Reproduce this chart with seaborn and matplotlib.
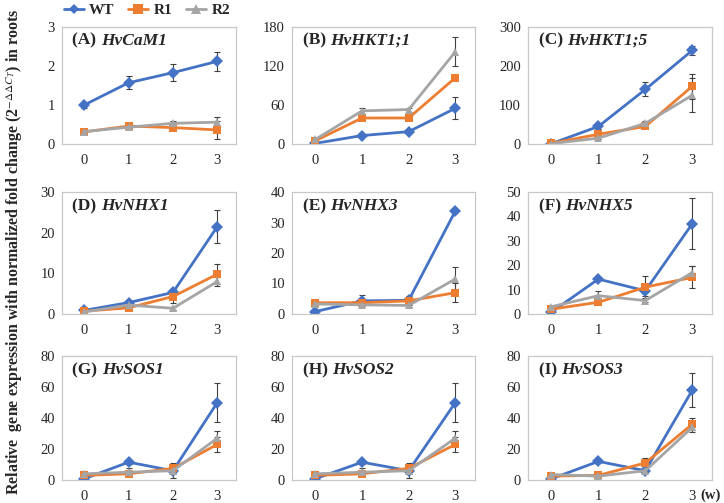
import numpy as np
import pandas as pd
import matplotlib
matplotlib.use("Agg")
import matplotlib.pyplot as plt
import seaborn as sns
from matplotlib.lines import Line2D

#%% Dados (médias e desvios)
weeks = [0, 1, 2, 3]
lines = ["WT", "R1", "R2"]
tags = ["(A)", "(B)", "(C)", "(D)", "(E)", "(F)", "(G)", "(H)", "(I)"]
genes = ["HvCaM1", "HvHKT1;1", "HvHKT1;5", "HvNHX1", "HvNHX3", "HvNHX5",
         "HvSOS1", "HvSOS2", "HvSOS3"]
ymax = [3, 180, 300, 30, 40, 50, 80, 80, 80]
ystep = [1, 60, 100, 10, 10, 10, 20, 20, 20]

cam1_mean = [[1.0, 1.57, 1.83, 2.12], [0.31, 0.46, 0.42, 0.36], [0.32, 0.43, 0.53, 0.56]]
cam1_err = [[0.08, 0.17, 0.22, 0.25], [0.03, 0.05, 0.05, 0.22], [0.03, 0.04, 0.05, 0.14]]
hkt11_mean = [[1, 13, 19, 55], [5, 40, 40, 102], [7, 51, 53, 142]]
hkt11_err = [[0.5, 2, 2, 17], [1, 2, 2, 3], [1, 5, 3, 22]]
hkt15_mean = [[1, 45, 140, 240], [2, 25, 45, 148], [1, 15, 53, 125]]
hkt15_err = [[0.5, 6, 18, 12], [1, 4, 5, 32], [0.5, 3, 5, 43]]
nhx1_mean = [[0.9, 2.8, 5.3, 21.5], [0.7, 1.5, 4.3, 9.8], [0.5, 2.2, 1.4, 8.0]]
nhx1_err = [[0.1, 0.3, 0.8, 4.0], [0.1, 0.2, 1.5, 2.5], [0.1, 0.3, 0.3, 1.2]]
nhx3_mean = [[0.8, 4.3, 4.5, 33.8], [3.7, 3.7, 4.3, 7.0], [3.3, 3.0, 2.8, 11.5]]
nhx3_err = [[0.1, 1.8, 1.5, 0.3], [0.3, 0.5, 0.5, 3.2], [0.3, 0.4, 0.4, 4.0]]
nhx5_mean = [[0.8, 14.3, 9.5, 37.0], [2.0, 4.8, 11.0, 15.0], [3.0, 7.5, 5.5, 17.0]]
nhx5_err = [[0.2, 0.5, 2.0, 10.5], [0.3, 1.3, 4.5, 4.5], [0.3, 2.0, 0.6, 2.5]]
sos1_mean = [[0.8, 11.5, 6.0, 50.0], [3.0, 4.0, 7.5, 23.0], [4.0, 5.0, 6.0, 27.0]]
sos1_err = [[0.2, 1.0, 1.0, 12.5], [0.5, 0.8, 3.5, 5.0], [1.5, 2.5, 4.5, 4.5]]
sos2_mean = [[0.8, 11.5, 6.0, 50.0], [3.0, 4.0, 7.5, 23.0], [4.0, 5.0, 6.0, 27.0]]
sos2_err = [[0.2, 1.0, 1.0, 12.5], [0.5, 0.8, 3.5, 5.0], [1.5, 2.5, 4.5, 4.5]]
sos3_mean = [[0.8, 12.0, 6.0, 58.0], [2.5, 3.0, 11.0, 36.0], [3.5, 2.5, 6.0, 34.0]]
sos3_err = [[0.2, 1.0, 1.0, 11.0], [0.5, 0.5, 3.0, 4.0], [1.0, 0.5, 1.0, 3.0]]

means = [cam1_mean, hkt11_mean, hkt15_mean, nhx1_mean, nhx3_mean, nhx5_mean,
         sos1_mean, sos2_mean, sos3_mean]
errs = [cam1_err, hkt11_err, hkt15_err, nhx1_err, nhx3_err, nhx5_err,
        sos1_err, sos2_err, sos3_err]

colors = {"WT": "#4472C4", "R1": "#ED7D31", "R2": "#A5A5A5"}
markers = {"WT": "D", "R1": "s", "R2": "^"}
msizes = {"WT": 5.5, "R1": 6.5, "R2": 7}

#%% Figura
sns.set_style("white")
plt.rcParams["font.family"] = ["Liberation Serif", "DejaVu Serif"]
plt.rcParams["mathtext.fontset"] = "stix"

W, H = 724, 503
fig = plt.figure(figsize=(W / 100, H / 100), dpi=100)

col_x = [(62, 236), (292, 475), (528, 712)]
row_y = [(27, 144), (192, 314), (356, 480)]

for i in range(9):
    r, c = divmod(i, 3)
    x0, x1 = col_x[c]
    y0, y1 = row_y[r]
    ax = fig.add_axes([x0 / W, 1 - y1 / H, (x1 - x0) / W, (y1 - y0) / H])

    df = pd.DataFrame({
        "week": weeks * 3,
        "line": [l for l in lines for _ in weeks],
        "value": np.ravel(means[i]),
        "err": np.ravel(errs[i]),
    })
    for l in lines:
        d = df[df["line"] == l]
        ax.errorbar(d["week"], d["value"], yerr=d["err"], fmt="none",
                    ecolor="#404040", elinewidth=0.8, capsize=2.5, capthick=0.8, zorder=1)
    sns.lineplot(data=df, x="week", y="value", hue="line", style="line",
                 palette=colors, markers=markers, dashes=False, linewidth=2,
                 markersize=6, markeredgewidth=0, legend=False, ax=ax, zorder=2)

    ax.set_xlim(-0.5, 3.42)
    ax.set_ylim(0, ymax[i])
    ax.set_yticks(np.arange(0, ymax[i] + 0.01, ystep[i]))
    ax.set_xticks(weeks)
    ax.set_xticks([0.5, 1.5, 2.5], minor=True)
    ax.tick_params(axis="y", which="major", length=0, labelsize=10.5, pad=5)
    ax.tick_params(axis="x", which="major", length=0, labelsize=10.5, pad=7)
    ax.tick_params(axis="x", which="minor", direction="in", length=3.5,
                   color="#BFBFBF", width=0.8)
    ax.set_xlabel("")
    ax.set_ylabel("")
    for s in ax.spines.values():
        s.set_color("#C8C8C8")
        s.set_linewidth(0.9)

    t = ax.text(0.06, 0.95, tags[i] + " ", transform=ax.transAxes,
                fontsize=12.5, fontweight="bold", va="top", ha="left")
    ax.annotate(genes[i], xy=(1, 0), xycoords=t, va="bottom", ha="left",
                fontsize=12.5, fontweight="bold", fontstyle="italic")

# legenda
handles = [Line2D([], [], color=colors[l], marker=markers[l], markersize=msizes[l],
                  markeredgewidth=0, linewidth=2) for l in lines]
fig.legend(handles, lines, loc="center", bbox_to_anchor=(147 / W, 1 - 10 / H),
           ncol=3, frameon=False, handlelength=1.3, columnspacing=0.9,
           handletextpad=0.35, prop={"weight": "bold", "size": 11})

fig.text(15 / W, 0.5,
         r"Relative  gene expression with normalized fold change (2$^{-\Delta\Delta C_T}$) in roots",
         rotation=90, ha="center", va="center", fontsize=11.5, fontweight="bold")
fig.text(711 / W, 1 - 495 / H, "(w)", ha="center", va="center",
         fontsize=10.5, fontweight="bold")

fig.savefig("out.png", dpi=100)
